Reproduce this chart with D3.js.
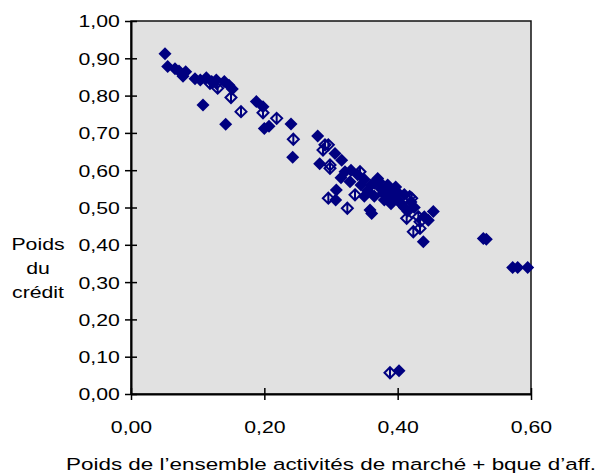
<!DOCTYPE html>
<head>
  <meta charset="utf-8">
  <script src="https://d3js.org/d3.v7.min.js"></script>
  <style>
    body { margin:0; background:#fff; font-family: "Liberation Sans", Arial, sans-serif; }
    text { font-family: "Liberation Sans", Arial, sans-serif; fill:#000; }
  </style>
</head>
<body>
  <script>
    // series: filled diamonds
    const filledPts = [
      [0.051,0.912],[0.055,0.878],[0.066,0.872],[0.072,0.866],[0.078,0.852],[0.082,0.864],
      [0.096,0.845],[0.104,0.842],[0.108,0.775],[0.113,0.848],[0.121,0.838],[0.128,0.842],
      [0.14,0.838],[0.147,0.828],[0.152,0.818],[0.142,0.723],[0.188,0.784],[0.198,0.770],
      [0.2,0.712],[0.207,0.718],[0.24,0.724],[0.2425,0.635],[0.28,0.692],
      [0.283,0.617],[0.306,0.645],[0.316,0.627],[0.321,0.596],[0.3285,0.569],[0.308,0.547],
      [0.307,0.52],[0.34,0.588],[0.35,0.575],[0.36,0.56],[0.3585,0.493],[0.361,0.484],
      [0.372,0.57],[0.375,0.55],[0.385,0.56],[0.39,0.545],[0.395,0.53],[0.40,0.52],
      [0.41,0.50],[0.405,0.51],[0.415,0.49],[0.4535,0.489],[0.446,0.466],[0.44,0.475],
      [0.4385,0.408],[0.5285,0.417],[0.533,0.415],[0.5725,0.339],[0.58,0.339],[0.595,0.339],
      [0.402,0.062],[0.355,0.545],[0.365,0.53],[0.38,0.52],[0.37,0.578],[0.345,0.56],
      [0.39,0.51],[0.397,0.555],[0.40,0.54],[0.42,0.515],[0.425,0.50],[0.35,0.53],
      [0.315,0.58],[0.33,0.60],[0.378,0.538],[0.387,0.528],[0.41,0.535],[0.365,0.565]
    ];
    // series: hollow diamonds
    const hollowPts = [
      [0.1185,0.833],[0.1285,0.833],[0.13,0.82],[0.15,0.795],[0.165,0.757],[0.198,0.754],
      [0.2185,0.739],[0.2435,0.683],[0.291,0.668],[0.296,0.668],[0.288,0.654],[0.2985,0.605],
      [0.2985,0.614],[0.3435,0.596],[0.296,0.525],[0.336,0.534],[0.3245,0.498],[0.421,0.525],
      [0.4135,0.471],[0.431,0.475],[0.4235,0.435],[0.4335,0.444],[0.418,0.529],[0.4335,0.462],
      [0.3885,0.057]
    ];
    const xTicks = [0, 0.2, 0.4, 0.6];
    const yTicks = [0, 0.1, 0.2, 0.3, 0.4, 0.5, 0.6, 0.7, 0.8, 0.9, 1.0];

    const W = 606, H = 475;
    const plot = {left: 131, right: 531, top: 21, bottom: 394};
    const navy = "#000080";
    const stretch = "scale(1.25,1)";

    const fr = d3.formatLocale({decimal: ",", thousands: " ", grouping: [3], currency: ["", " €"]});
    const fmt = fr.format(".2f");

    const svg = d3.select("body").append("svg")
        .attr("width", W).attr("height", H);

    const x = d3.scaleLinear().domain([0, 0.6]).range([plot.left, plot.right]);
    const y = d3.scaleLinear().domain([0, 1]).range([plot.bottom, plot.top]);

    svg.append("rect")
        .attr("x", plot.left).attr("y", plot.top)
        .attr("width", plot.right - plot.left).attr("height", plot.bottom - plot.top)
        .attr("fill", "#e1e1e1")
        .attr("stroke", "#111").attr("stroke-width", 1.5);

    // points
    const d = 6.5;
    svg.append("g").selectAll("path")
        .data(filledPts).enter().append("path")
        .attr("d", p => {
            const cx = x(p[0]), cy = y(p[1]);
            return `M${cx},${cy-d}L${cx+d},${cy}L${cx},${cy+d}L${cx-d},${cy}Z`;
        })
        .attr("fill", navy);

    svg.append("g").selectAll("path")
        .data(hollowPts).enter().append("path")
        .attr("d", p => {
            const cx = x(p[0]), cy = y(p[1]), e = d - 1;
            return `M${cx},${cy-e}L${cx+e},${cy}L${cx},${cy+e}L${cx-e},${cy}Z M${cx},${cy-e}L${cx},${cy+e}`;
        })
        .attr("fill", "none")
        .attr("stroke", navy).attr("stroke-width", 2);

    // axes
    const yAxis = d3.axisLeft(y).tickValues(yTicks).tickFormat(fmt).tickSizeOuter(0);
    const gy = svg.append("g")
        .attr("transform", `translate(${plot.left},0)`)
        .call(yAxis);
    gy.select(".domain").attr("stroke", "#000").attr("stroke-width", 2);
    gy.selectAll(".tick line").attr("x1", -6).attr("x2", 6).attr("stroke", "#000").attr("stroke-width", 1.5);
    gy.selectAll(".tick text")
        .attr("x", -9).attr("dy", "0.35em")
        .attr("transform", stretch)
        .style("font-size", "17px");

    const xAxis = d3.axisBottom(x).tickValues(xTicks).tickFormat(fmt).tickSizeOuter(0);
    const gx = svg.append("g")
        .attr("transform", `translate(0,${plot.bottom})`)
        .call(xAxis);
    gx.select(".domain").attr("stroke", "#000").attr("stroke-width", 2);
    gx.selectAll(".tick line").attr("y1", -6).attr("y2", 6).attr("stroke", "#000").attr("stroke-width", 1.5);
    gx.selectAll(".tick text")
        .attr("y", 39).attr("dy", "0")
        .attr("transform", stretch)
        .style("font-size", "17px");

    // axis titles
    svg.append("g")
        .attr("transform", "translate(331,470) scale(1.32,1)")
        .append("text")
        .attr("text-anchor", "middle")
        .style("font-size", "17px")
        .text("Poids de l\u2019ensemble activités de marché + bque d\u2019aff.");

    const yt = svg.append("g")
        .attr("transform", `translate(38,250) ${stretch}`)
        .append("text")
        .attr("text-anchor", "middle")
        .style("font-size", "17px");
    ["Poids", "du", "crédit"].forEach((s, i) => {
        yt.append("tspan").attr("x", 0).attr("y", i * 24).text(s);
    });
  </script>
</body>
